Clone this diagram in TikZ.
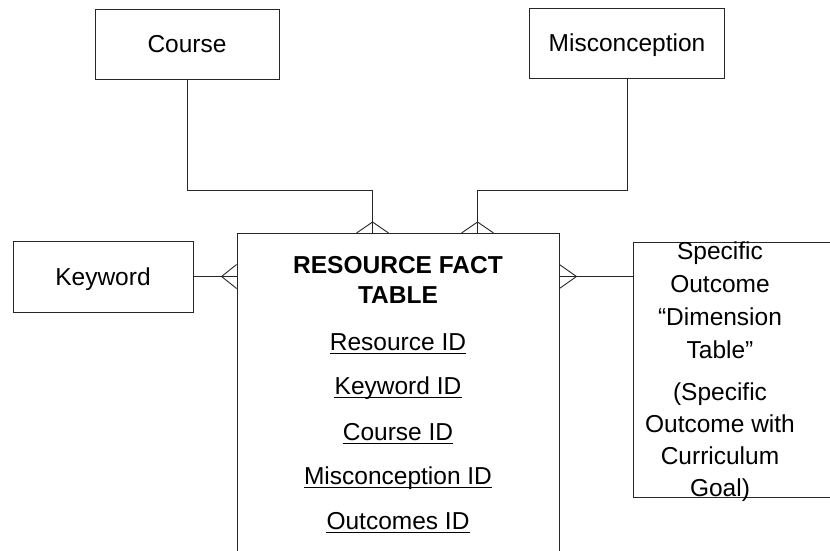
\documentclass[tikz,border=0pt]{standalone}
\usepackage{fontspec}
\setmainfont{Liberation Sans}
\usetikzlibrary{calc}
\begin{document}
\begin{tikzpicture}[x=1pt,y=-1pt,
  ent/.style={draw=black!85, line width=0.9pt, inner sep=0pt,
    text height=17.5pt, text depth=0pt,
    font=\fontsize{24.5}{33}\selectfont},
  link/.style={draw=black!85, line width=0.9pt},
  txt/.style={inner sep=0pt, anchor=base, font=\fontsize{24.5}{33}\selectfont},
  head/.style={txt, font=\fontsize{24.5}{33}\selectfont\bfseries},
  uline/.style={line width=1.6pt}]
\clip (0,0) rectangle (830,550);

% entity boxes
\node[ent, minimum width=184, minimum height=70] (course) at (187,44) {Course};
\node[ent, minimum width=195, minimum height=70] (misc) at (627,43) {Misconception};
\node[ent, minimum width=180, minimum height=71] (keyword) at (103,276.5) {Keyword};
% fact table runs past the lower edge
\node[ent, minimum width=322, minimum height=380, anchor=north] (fact) at (398,233) {};
% outcome dimension table runs past the right edge
\node[ent, minimum width=215, minimum height=255, anchor=north west] (spec) at (633,242) {};

% fact table title and key fields
\node[head] (t1) at (398,273) {RESOURCE FACT};
\node[head] (t2) at (398,303) {TABLE};
\foreach \f/\y [count=\i] in {{Resource ID}/350, {Keyword ID}/394, {Course ID}/440,
    {Misconception ID}/484, {Outcomes ID}/529} {
  \node[txt] (fld\i) at (398,\y) {\f};
  \draw[uline] ($(fld\i.base west)+(0,3.5)$) -- ($(fld\i.base east)+(0,3.5)$);
}

% outcome table text
\foreach \t/\y [count=\i] in {{Specific}/259, {Outcome}/292, {“Dimension}/325, {Table”}/358,
    {(Specific}/400, {Outcome with}/432, {Curriculum}/464, {Goal)}/496} {
  \node[txt] (so\i) at (720,\y) {\t};
}

% attachment points on the fact table
\coordinate (cf) at ($(fact.north west)+(136,0)$);
\coordinate (mf) at ($(fact.north west)+(241,0)$);
\coordinate (kf) at (fact.west |- keyword.east);
\coordinate (sf) at (fact.east |- keyword.east);

% connectors
\draw[link] (course.south) -- ++(0,111) -| (cf);
\draw[link] (misc.south) -- ++(0,112) -| (mf);
\draw[link] (keyword.east) -- (kf);
\draw[link] (sf) -- (sf -| spec.west);

% crow's feet (many side at the fact table)
\draw[link] ($(cf)+(-16,0)$) -- ($(cf)+(0,-11)$) -- ($(cf)+(16,0)$);
\draw[link] ($(mf)+(-16,0)$) -- ($(mf)+(0,-11)$) -- ($(mf)+(16,0)$);
\draw[link] ($(kf)+(0,-12)$) -- ($(kf)+(-15,0)$) -- ($(kf)+(0,12)$);
\draw[link] ($(sf)+(0,-12)$) -- ($(sf)+(17,0)$) -- ($(sf)+(0,12)$);
\end{tikzpicture}
\end{document}
